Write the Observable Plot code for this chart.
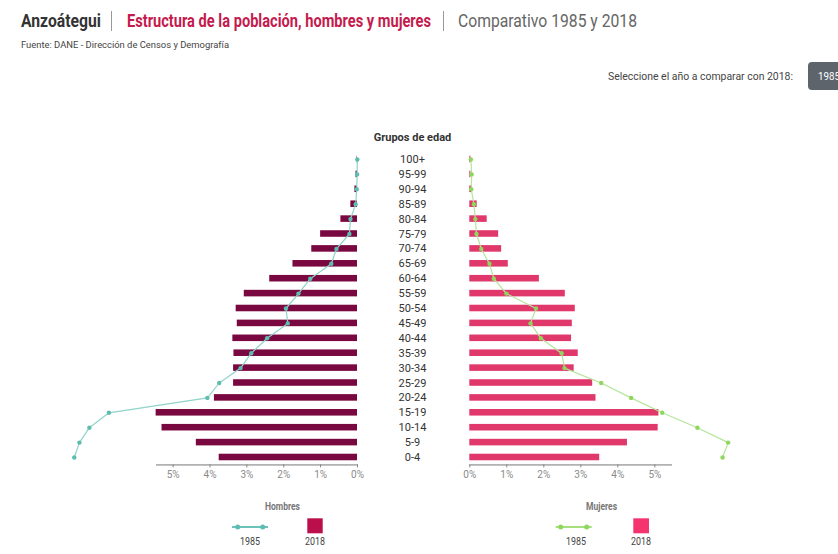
<!DOCTYPE html>
<html><head><meta charset="utf-8">
<script src="https://cdn.jsdelivr.net/npm/d3@7"></script>
<script src="https://cdn.jsdelivr.net/npm/@observablehq/plot@0.6"></script>
<style>
html,body{margin:0;padding:0;background:#fff;overflow:hidden;}
#root{position:relative;width:838px;height:554px;overflow:hidden;font-family:Roboto,sans-serif;}
.abs{position:absolute;white-space:nowrap;}
</style></head><body><div id="root"></div>
<script>
// ---- data (percent of total population) ----
const ages = ["100+","95-99","90-94","85-89","80-84","75-79","70-74","65-69","60-64","55-59","50-54","45-49","40-44","35-39","30-34","25-29","20-24","15-19","10-14","5-9","0-4"];
const hombres2018 = [0.01,0.04,0.07,0.18,0.45,1.00,1.24,1.75,2.38,3.07,3.29,3.26,3.38,3.35,3.36,3.36,3.88,5.46,5.30,4.37,3.75];
const hombres1985 = [0.005,0.01,0.02,0.05,0.19,0.22,0.57,0.71,1.28,1.60,1.94,1.89,2.45,2.88,3.17,3.75,4.07,6.74,7.27,7.54,7.68];
const mujeres2018 = [0.03,0.03,0.07,0.20,0.47,0.78,0.86,1.04,1.88,2.58,2.85,2.77,2.75,2.93,2.82,3.32,3.41,5.11,5.09,4.26,3.51];
const mujeres1985 = [0.03,0.05,0.04,0.11,0.15,0.18,0.31,0.53,0.65,0.99,1.79,1.64,1.92,2.48,2.56,3.55,4.36,5.20,6.15,6.98,6.83];
const tickValues = [0,1,2,3,4,5];
const xMax = 5.45;

const root = document.getElementById("root");

function addText(text, o) {
  const el = document.createElement("div");
  el.className = "abs";
  el.textContent = text;
  el.style.fontSize = o.size + "px";
  el.style.lineHeight = o.size + "px";
  el.style.fontWeight = o.weight || 400;
  el.style.color = o.color || "#333";
  el.style.top = (o.cy - o.size / 2) + "px";
  el.style.left = "0px";
  root.appendChild(el);
  const w = el.getBoundingClientRect().width;
  const s = o.width / w;
  const left = o.center != null ? o.center - o.width / 2 : o.left;
  el.style.left = left + "px";
  el.style.transformOrigin = "0 50%";
  el.style.transform = `scaleX(${s})`;
  return el;
}
function addBox(o) {
  const el = document.createElement("div");
  el.className = "abs";
  Object.assign(el.style, o);
  root.appendChild(el);
  return el;
}

// ---- header ----
addText("Anzoátegui", {left: 21, width: 80, cy: 21, size: 18, weight: 700, color: "#333"});
addBox({left: "111px", top: "11px", width: "1px", height: "20px", background: "#999"});
addText("Estructura de la población, hombres y mujeres", {left: 127, width: 304, cy: 21, size: 18, weight: 700, color: "#c41a4d"});
addBox({left: "443px", top: "11px", width: "1px", height: "20px", background: "#999"});
addText("Comparativo 1985 y 2018", {left: 458, width: 179, cy: 21, size: 18, weight: 400, color: "#666"});
addText("Fuente: DANE - Dirección de Censos y Demografía", {left: 21, width: 208, cy: 45, size: 9, color: "#444"});
addText("Seleccione el año a comparar con 2018:", {left: 608, width: 185, cy: 76, size: 11, color: "#444"});
addBox({left: "808px", top: "62px", width: "44px", height: "28px", background: "#5d646c", borderRadius: "4px"});
addText("1985", {left: 818, width: 22, cy: 76, size: 11, color: "#fff"});

// ---- pyramid ----
const men = ages.map((age, i) => ({age, v2018: hombres2018[i], v1985: hombres1985[i]}));
const women = ages.map((age, i) => ({age, v2018: mujeres2018[i], v1985: mujeres1985[i]}));

const common = {
  height: 380, marginTop: 31.55, marginBottom: 35.55,
  style: {background: "transparent", overflow: "visible", fontFamily: "Roboto, sans-serif", color: "#8a8a8a", fontSize: "10px"},
  y: {domain: ages, paddingInner: 0.56, paddingOuter: 0.28, round: false, axis: null}
};

const leftPlot = Plot.plot({
  ...common,
  width: 470, marginLeft: 156, marginRight: 113,
  x: {domain: [0, xMax], reverse: true, ticks: tickValues, tickFormat: d => d + "%", tickSize: 3, tickPadding: 3, label: null},
  marks: [
    Plot.barX(men, {x: "v2018", y: "age", fill: "#7a0840"}),
    Plot.frame({anchor: "bottom", stroke: "#777"}),
    Plot.line(men, {x: "v1985", y: "age", stroke: "#8fd3ca", strokeWidth: 1.2}),
    Plot.dot(men, {x: "v1985", y: "age", r: 2.2, fill: "#5dbdb1"}),
    Plot.text(ages, {x: 0, y: d => d, dx: 55, fontSize: 11, fill: "#333"}),
    Plot.text(["Grupos de edad"], {x: [0], text: d => d, frameAnchor: "top", lineAnchor: "middle", dx: 55, dy: -14.5, fontSize: 11, fontWeight: "bold", fill: "#333"})
  ]
});
const rightPlot = Plot.plot({
  ...common,
  width: 426, marginLeft: 57.3, marginRight: 167,
  x: {domain: [0, xMax], ticks: tickValues, tickFormat: d => d + "%", tickSize: 3, tickPadding: 3, label: null},
  marks: [
    Plot.barX(women, {x: "v2018", y: "age", fill: "#e0386b"}),
    Plot.frame({anchor: "bottom", stroke: "#777"}),
    Plot.line(women, {x: "v1985", y: "age", stroke: "#b5e59a", strokeWidth: 1.2}),
    Plot.dot(women, {x: "v1985", y: "age", r: 2.2, fill: "#8fd65c"})
  ]
});
[[leftPlot, 0], [rightPlot, 412]].forEach(([svg, x]) => {
  svg.style.position = "absolute";
  svg.style.left = x + "px";
  svg.style.top = "120px";
  root.appendChild(svg);
});

// ---- legends ----
const ns = "http://www.w3.org/2000/svg";
const lg = document.createElementNS(ns, "svg");
lg.setAttribute("width", 838); lg.setAttribute("height", 554);
lg.style.position = "absolute"; lg.style.left = "0"; lg.style.top = "0";
function sv(tag, attrs) { const e = document.createElementNS(ns, tag); for (const k in attrs) e.setAttribute(k, attrs[k]); lg.appendChild(e); }
sv("line", {x1: 232, x2: 268, y1: 527, y2: 527, stroke: "#6cc3b9", "stroke-width": 2});
sv("circle", {cx: 237.7, cy: 527, r: 2.5, fill: "#5dbdb1"});
sv("circle", {cx: 262.7, cy: 527, r: 2.5, fill: "#5dbdb1"});
sv("rect", {x: 307.3, y: 518.3, width: 15.4, height: 15, fill: "#bb0f4c"});
sv("line", {x1: 555.7, x2: 591.7, y1: 527, y2: 527, stroke: "#a5e07f", "stroke-width": 2});
sv("circle", {cx: 560.7, cy: 527, r: 2.5, fill: "#8fd65c"});
sv("circle", {cx: 586.7, cy: 527, r: 2.5, fill: "#8fd65c"});
sv("rect", {x: 633.3, y: 518.3, width: 15.7, height: 15, fill: "#f5336e"});
root.appendChild(lg);
addText("Hombres", {center: 282.5, width: 35, cy: 507, size: 10, weight: 700, color: "#777"});
addText("Mujeres", {center: 601.5, width: 31, cy: 507, size: 10, weight: 700, color: "#777"});
addText("1985", {center: 250, width: 20, cy: 541.5, size: 10, color: "#444"});
addText("2018", {center: 315, width: 20, cy: 541.5, size: 10, color: "#444"});
addText("1985", {center: 575.5, width: 20, cy: 541.5, size: 10, color: "#444"});
addText("2018", {center: 641, width: 20, cy: 541.5, size: 10, color: "#444"});
</script>
</body></html>
